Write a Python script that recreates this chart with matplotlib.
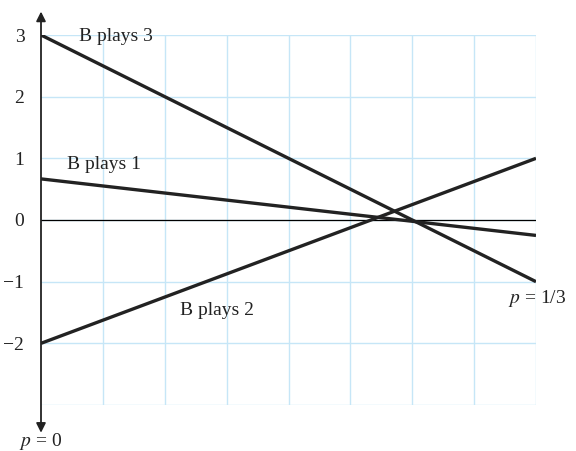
import matplotlib.pyplot as plt

# payoff lines: value at p = 0 and at p = 1/3
p_ends = [0, 1/3]
b_plays_3 = [3, -1]
b_plays_1 = [2/3, -0.25]
b_plays_2 = [-2, 1]
y_ticks = [3, 2, 1, 0, -1, -2]
y_labels = ['3', '2', '1', '0', '\u22121', '\u22122']

plt.rcParams['font.family'] = ['Liberation Serif', 'DejaVu Serif']
plt.rcParams['mathtext.fontset'] = 'stix'

fig = plt.figure(figsize=(5.76, 4.51), dpi=100)
ax = fig.add_axes([41/576, 46/451, 495/576, 370/451])

ax.set_xlim(0, 1/3)
ax.set_ylim(-3, 3)

# grid
for i in range(1, 9):
    ax.axvline(i/24, color='#c6e6f7', lw=1, zorder=0)
for y in range(-3, 4):
    ax.axhline(y, color='#c6e6f7', lw=1, zorder=0)
ax.axhline(0, color='black', lw=0.9, zorder=1)

lc = '#222222'
ax.plot(p_ends, b_plays_3, color=lc, lw=2.4, solid_capstyle='butt', zorder=3)
ax.plot(p_ends, b_plays_1, color=lc, lw=2.4, solid_capstyle='butt', zorder=3)
ax.plot(p_ends, b_plays_2, color=lc, lw=2.4, solid_capstyle='butt', zorder=3)

# vertical axis with arrows at both ends
ax.annotate('', xy=(0, 3.38), xytext=(0, -3.45), annotation_clip=False,
            arrowprops=dict(arrowstyle='<|-|>', color=lc, lw=1.3,
                            mutation_scale=14, shrinkA=0, shrinkB=0))

for s in ax.spines.values():
    s.set_visible(False)
ax.set_xticks([])
ax.set_yticks(y_ticks)
ax.set_yticklabels(y_labels, fontsize=14, color='#222222')
ax.tick_params(axis='y', length=0, pad=12)

fs = 14
ax.text(1/3 * 38/495, 2.98, 'B plays 3', fontsize=fs, va='center', color='#222222')
ax.text(1/3 * 26/495, 0.9, 'B plays 1', fontsize=fs, va='center', color='#222222')
ax.text(1/3 * 139/495, -1.47, 'B plays 2', fontsize=fs, va='center', color='#222222')
ax.text(1/3 + 0.001, -1.27, r'$p$ = 1/3', fontsize=fs, va='center', ha='center',
        color='#222222', clip_on=False)
ax.text(0, -3.6, r'$p$ = 0', fontsize=fs, va='center', ha='center',
        color='#222222', clip_on=False)

# clipped title fragment at the top edge (only the descender shows)
fig.text(374/576, 1.0 + 1/451, 'p', fontsize=30, family='DejaVu Sans',
         va='bottom', ha='left', color='black')

fig.savefig('out.png', dpi=100)
